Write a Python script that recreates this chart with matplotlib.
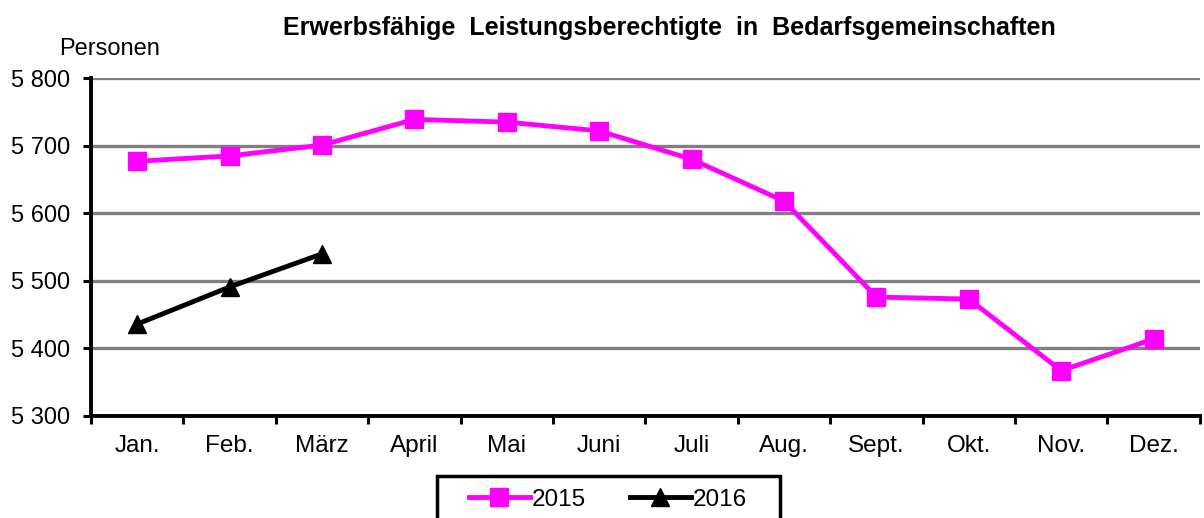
import numpy as np
import matplotlib.pyplot as plt
from matplotlib.patches import Rectangle

plt.rcParams["font.family"] = ["Liberation Sans", "DejaVu Sans"]

months = ["Jan.", "Feb.", "März", "April", "Mai", "Juni", "Juli", "Aug.",
          "Sept.", "Okt.", "Nov.", "Dez."]
values_2015 = [5677, 5685, 5701, 5739, 5735, 5722, 5680, 5618, 5476, 5473, 5367, 5414]
values_2016 = [5436, 5491, 5540]
y_ticks = [5300, 5400, 5500, 5600, 5700, 5800]
y_tick_labels = ["5 300", "5 400", "5 500", "5 600", "5 700", "5 800"]

fig = plt.figure(figsize=(12.04, 5.18), dpi=100)
ax = fig.add_axes([0.0756, 0.197, 0.921, 0.652])

x = np.arange(len(months))
ax.plot(x, values_2015, color="#ff00ff", linewidth=3.5, marker="s",
        markersize=12.5, label="2015", zorder=3)
ax.plot(x[:len(values_2016)], values_2016, color="black", linewidth=3.5,
        marker="^", markersize=12.5, label="2016", zorder=3)

ax.set_xlim(-0.5, len(months) - 0.5)
ax.set_ylim(5300, 5800)
ax.set_yticks(y_ticks)
ax.set_yticklabels(y_tick_labels, fontsize=17)
ax.yaxis.grid(True, color="#808080", linewidth=2.4)
ax.set_axisbelow(True)

# month labels centred, tick marks between categories
ax.set_xticks(x)
ax.set_xticklabels(months, fontsize=17.5)
ax.tick_params(axis="x", length=0, pad=14)
ax.set_xticks(np.arange(-0.5, len(months)), minor=True)
ax.tick_params(axis="x", which="minor", length=6, width=2.2, direction="out")
ax.tick_params(axis="y", length=6, width=2.2, direction="out", pad=9)

for side in ["top", "right"]:
    ax.spines[side].set_visible(False)
for side in ["left", "bottom"]:
    ax.spines[side].set_linewidth(2.8)

fig.text(0.556, 0.945, "Erwerbsfähige  Leistungsberechtigte  in  Bedarfsgemeinschaften",
         ha="center", va="center", fontsize=18, fontweight="bold")
fig.text(0.049, 0.905, "Personen", ha="left", va="center", fontsize=17)

leg = fig.legend(loc="center", bbox_to_anchor=(0.505, 0.035), ncol=2,
                 fontsize=17.5, frameon=False, handlelength=2.5,
                 columnspacing=1.8, handletextpad=0.1)

# legend box, open at the bottom edge like the original
fig.patches.append(Rectangle((0.363, -0.02), 0.285, 0.101, transform=fig.transFigure,
                             fill=False, edgecolor="black", linewidth=2.5))

fig.savefig("out.png", dpi=100)
